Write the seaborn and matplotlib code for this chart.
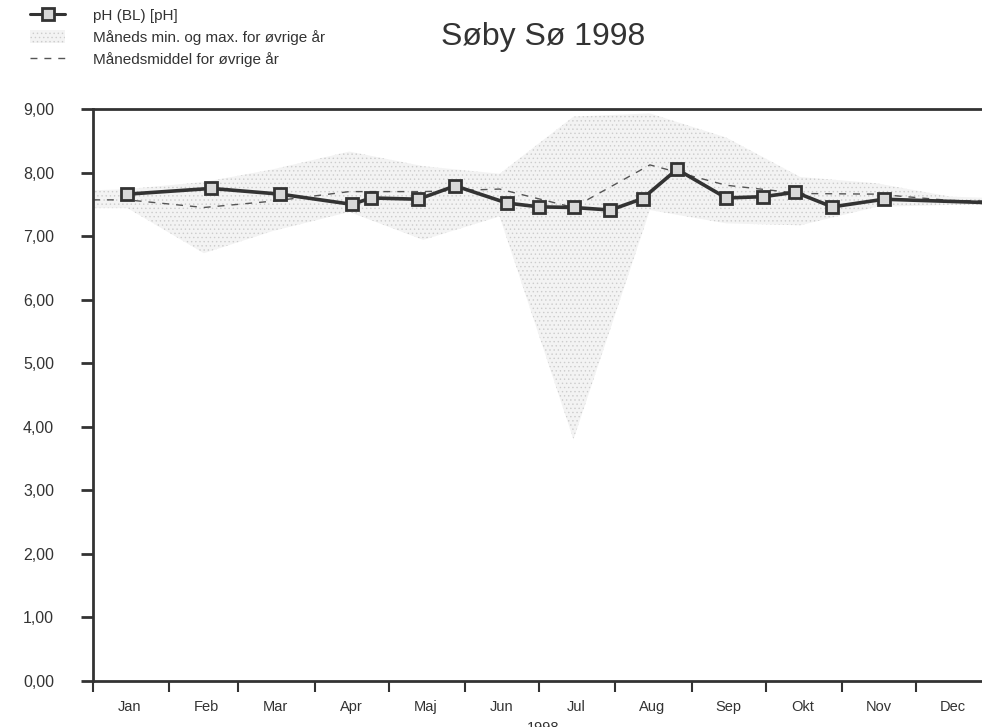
import numpy as np
import pandas as pd
import matplotlib
matplotlib.use("Agg")
import matplotlib.pyplot as plt
import matplotlib.dates as mdates
from matplotlib.lines import Line2D
from matplotlib.patches import Patch
from matplotlib.ticker import FuncFormatter
import seaborn as sns

# pH measurements 1998
ph_dates = ["1998-01-15", "1998-02-18", "1998-03-18", "1998-04-16", "1998-04-24",
            "1998-05-13", "1998-05-28", "1998-06-18", "1998-07-01", "1998-07-15",
            "1998-07-30", "1998-08-12", "1998-08-26", "1998-09-15", "1998-09-30",
            "1998-10-13", "1998-10-28", "1998-11-18", "1999-01-12"]
ph_values = [7.66, 7.75, 7.66, 7.50, 7.60, 7.58, 7.79, 7.52, 7.46, 7.45,
             7.41, 7.59, 8.05, 7.60, 7.62, 7.69, 7.46, 7.58, 7.51]

# monthly min / max / mean for other years
ref_dates = ["1998-01-01", "1998-01-15", "1998-02-15", "1998-03-15", "1998-04-15",
             "1998-05-15", "1998-06-15", "1998-07-15", "1998-08-15", "1998-09-15",
             "1998-10-15", "1998-11-15", "1998-12-15", "1999-01-01"]
month_min = [7.44, 7.44, 6.73, 7.08, 7.38, 6.94, 7.31, 3.80, 7.41, 7.20, 7.17, 7.46, 7.49, 7.49]
month_max = [7.72, 7.74, 7.85, 8.05, 8.33, 8.10, 7.98, 8.88, 8.93, 8.55, 7.93, 7.83, 7.62, 7.60]
month_mean = [7.57, 7.57, 7.45, 7.55, 7.70, 7.70, 7.74, 7.45, 8.12, 7.80, 7.67, 7.66, 7.56, 7.55]

month_labels = ["Jan", "Feb", "Mar", "Apr", "Maj", "Jun", "Jul", "Aug", "Sep", "Okt", "Nov", "Dec"]

ph = pd.DataFrame({"dato": pd.to_datetime(ph_dates), "pH": ph_values})
ref = pd.DataFrame({"dato": pd.to_datetime(ref_dates), "min": month_min,
                    "max": month_max, "middel": month_mean})

sns.set_theme(style="white")
plt.rcParams["font.family"] = ["Liberation Sans", "DejaVu Sans"]
plt.rcParams["hatch.linewidth"] = 0.5

dark = "#333333"
fig = plt.figure(figsize=(9.82, 7.27), dpi=100)
ax = fig.add_axes([0.0947, 0.0633, 0.9159, 0.7868])

ax.fill_between(ref["dato"], ref["min"], ref["max"], facecolor="#f3f3f3",
                edgecolor="#cccccc", hatch="....", linewidth=0, zorder=1)
sns.lineplot(data=ref, x="dato", y="middel", ax=ax, color="#555555",
             linewidth=1.0, linestyle=(0, (5, 5)), zorder=2)
sns.lineplot(data=ph, x="dato", y="pH", ax=ax, color=dark, linewidth=2.6,
             marker="s", markersize=9, markerfacecolor="#d8d8d8",
             markeredgecolor=dark, markeredgewidth=2, sort=False, zorder=3)

ax.set_xlim(pd.Timestamp("1998-01-01"), pd.Timestamp("1999-01-01"))
ax.set_ylim(0, 9)

# y axis
ax.set_yticks(np.arange(0, 10, 1))
ax.yaxis.set_major_formatter(FuncFormatter(lambda v, p: f"{v:.2f}".replace(".", ",")))
ax.tick_params(axis="y", which="major", direction="out", length=9, width=2,
               color=dark, labelsize=11.5, labelcolor=dark, pad=19, left=True)

# x axis: ticks at month starts, labels mid-month
ax.xaxis.set_major_locator(mdates.MonthLocator())
ax.xaxis.set_major_formatter(plt.NullFormatter())
mid = pd.date_range("1998-01-01", periods=12, freq="MS") + pd.Timedelta(days=15)
ax.set_xticks(mid, minor=True)
ax.set_xticklabels(month_labels, minor=True)
ax.tick_params(axis="x", which="major", direction="out", length=8, width=1.5,
               color=dark, bottom=True)
ax.tick_params(axis="x", which="minor", length=0, labelsize=10.5,
               labelcolor=dark, pad=14)
ax.set_xlabel("1998", fontsize=10.5, color=dark, labelpad=5)
ax.set_ylabel("")

for side in ["left", "bottom", "top"]:
    ax.spines[side].set_color(dark)
    ax.spines[side].set_linewidth(2)
ax.spines["right"].set_visible(False)

fig.text(543 / 982, 1 - 45 / 727, "Søby Sø 1998", ha="center", va="baseline",
         fontsize=23, color=dark)

handles = [
    Line2D([], [], color=dark, linewidth=2.2, marker="s", markersize=9,
           markerfacecolor="#d8d8d8", markeredgecolor=dark, markeredgewidth=2),
    Patch(facecolor="#f3f3f3", edgecolor="#cccccc", hatch="....", linewidth=0),
    Line2D([], [], color="#555555", linewidth=1.0, linestyle=(0, (5, 5))),
]
labels = ["pH (BL) [pH]", "Måneds min. og max. for øvrige år", "Månedsmiddel for øvrige år"]
fig.legend(handles, labels, loc="upper left", bbox_to_anchor=(0.02, 1.004),
           frameon=False, fontsize=11, handlelength=2.3, handleheight=1.0,
           handletextpad=1.8, labelspacing=0.45, borderaxespad=0.3,
           labelcolor=dark)

fig.savefig("out.png", dpi=100)
